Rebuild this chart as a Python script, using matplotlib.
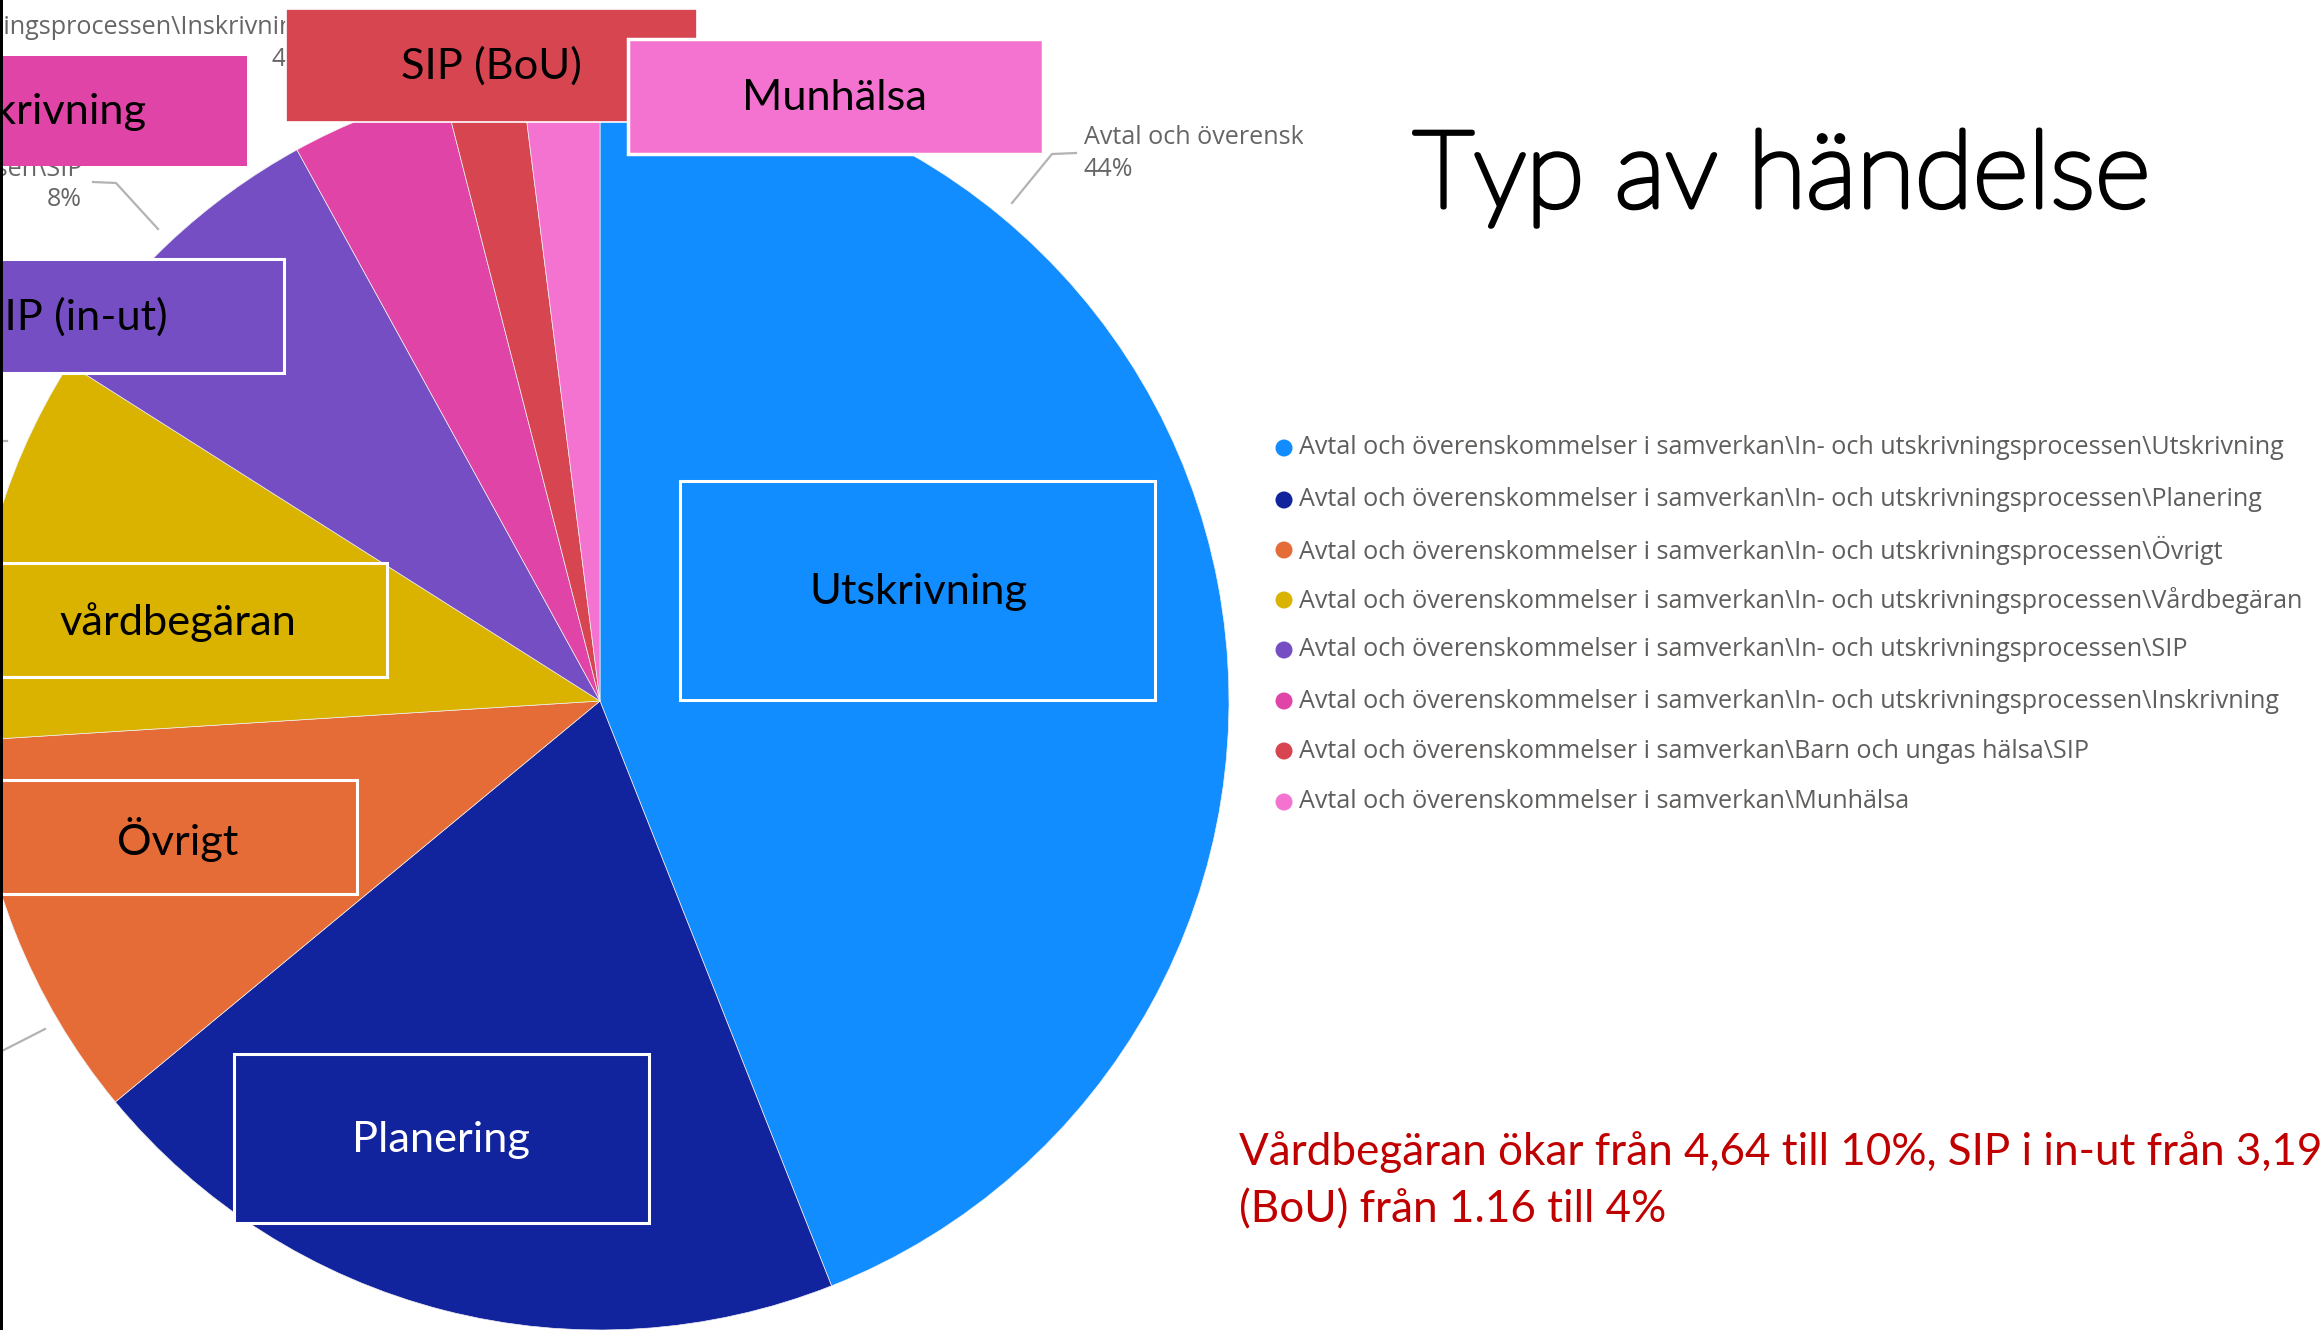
import matplotlib
matplotlib.use("Agg")
import matplotlib.pyplot as plt
import matplotlib.patheffects as pe
from matplotlib.patches import Rectangle
from matplotlib.transforms import Bbox

# ---------------- data ----------------
categories = ["Utskrivning", "Planering", "Övrigt", "Vårdbegäran", "SIP",
              "Inskrivning", "SIP (BoU)", "Munhälsa"]
shares = [44, 20, 10, 10, 8, 4, 2, 2]
colors = ["#118DFF", "#12239E", "#E66C37", "#D9B300", "#744EC2",
          "#E044A7", "#D64550", "#F472D0"]
legend_labels = [
    "Avtal och överenskommelser i samverkan\\In- och utskrivningsprocessen\\Utskrivning",
    "Avtal och överenskommelser i samverkan\\In- och utskrivningsprocessen\\Planering",
    "Avtal och överenskommelser i samverkan\\In- och utskrivningsprocessen\\Övrigt",
    "Avtal och överenskommelser i samverkan\\In- och utskrivningsprocessen\\Vårdbegäran",
    "Avtal och överenskommelser i samverkan\\In- och utskrivningsprocessen\\SIP",
    "Avtal och överenskommelser i samverkan\\In- och utskrivningsprocessen\\Inskrivning",
    "Avtal och överenskommelser i samverkan\\Barn och ungas hälsa\\SIP",
    "Avtal och överenskommelser i samverkan\\Munhälsa",
]
box_texts = ["Utskrivning", "Planering", "Övrigt", "vårdbegäran", "SIP (in-ut)",
             "Inskrivning", "SIP (BoU)", "Munhälsa"]
box_text_colors = ["black", "white", "black", "black", "black", "black", "black", "black"]
title_text = "Typ av händelse"
note_lines = ["Vårdbegäran ökar från 4,64 till 10%, SIP i in-ut från 3,19",
              "(BoU) från 1.16 till 4%"]

# ---------------- layout ----------------
W, H = 2322, 1330
fig = plt.figure(figsize=(W / 100, H / 100), dpi=100)
fig.patch.set_facecolor("white")
ax = fig.add_axes([0, 0, 1, 1])

ax.pie(shares, colors=colors, center=(600, 701), radius=629,
       startangle=-90, counterclock=True,
       wedgeprops=dict(linewidth=0.5, edgecolor="#f0f0f0"))
ax.set_xlim(0, W)
ax.set_ylim(H, 0)
ax.set_aspect("auto")
ax.axis("off")

renderer = fig.canvas.get_renderer()


def fit_width(t, target):
    w = t.get_window_extent(renderer).width
    t.set_fontsize(t.get_fontsize() * target / w)
    return t.get_fontsize()


CAL = ["Lato", "Open Sans", "DejaVu Sans"]
SEG = ["Open Sans", "Noto Sans", "DejaVu Sans"]
GRAY = "#666666"

# ---- gray Power BI data labels (partly hidden) ----
lab_probe = ax.text(0, -500, legend_labels[0], fontsize=16, family=SEG)
lab_fs = fit_width(lab_probe, 986)
lab_probe.remove()

t44 = ax.text(1084, 138, legend_labels[0], fontsize=lab_fs, family=SEG,
              color=GRAY, va="center", ha="left", zorder=4)
t44.set_clip_box(Bbox.from_extents(0, 0, 1303, H))
t44.set_clip_on(True)
ax.text(1084, 170, f"{shares[0]}%", fontsize=lab_fs, family=SEG, color=GRAY,
        va="center", ha="left", zorder=4)

ax.text(308, 28, legend_labels[5], fontsize=lab_fs, family=SEG, color=GRAY,
        va="center", ha="right", zorder=4)
ax.text(307, 59, f"{shares[5]}%", fontsize=lab_fs, family=SEG, color=GRAY,
        va="center", ha="right", zorder=4)

ax.text(82, 170, legend_labels[4], fontsize=lab_fs, family=SEG, color=GRAY,
        va="center", ha="right", zorder=4)
ax.text(82, 200, f"{shares[4]}%", fontsize=lab_fs, family=SEG, color=GRAY,
        va="center", ha="right", zorder=4)

# leader lines
lc = "#b3b3b3"
ax.plot([1076, 1052, 1012], [153, 154, 203], color=lc, lw=1.6, zorder=4)
ax.plot([93, 116, 158], [182, 183, 229], color=lc, lw=1.6, zorder=4)
ax.plot([0, 7], [441, 441], color=lc, lw=1.6, zorder=4)
ax.plot([0, 45], [1052, 1029], color=lc, lw=1.6, zorder=4)

# ---- overlaid slide label boxes ----
box_rects = [(680, 481, 1155, 700), (234, 1054, 649, 1223), (-10, 780, 357, 894),
             (-10, 563, 387, 677), (-10, 259, 284, 373), (-10, 56, 247, 166),
             (286, 9, 697, 122), (628, 39, 1043, 154)]
box_text_pos = [(918, 592, "center"), (441, 1140, "center"), (178, 840, "center"),
                (178, 622, "center"), (168, 317, "right"), (146, 112, "right"),
                (491, 66, "center"), (835, 98, "center")]
box_edge_lw = [2.2, 2.2, 2.2, 2.2, 2.2, 0, 1.2, 2.5]

probe = ax.text(0, -500, box_texts[0], fontsize=30, family=CAL)
box_fs = fit_width(probe, 218)
probe.remove()

for i, (x0, y0, x1, y1) in enumerate(box_rects):
    ax.add_patch(Rectangle((x0, y0), x1 - x0, y1 - y0, facecolor=colors[i],
                           edgecolor="white" if box_edge_lw[i] > 0 else colors[i],
                           linewidth=box_edge_lw[i], zorder=5 + i * 0.1))
    tx, ty, ha = box_text_pos[i]
    ax.text(tx, ty, box_texts[i], fontsize=box_fs, family=CAL,
            color=box_text_colors[i], ha=ha, va="center", zorder=5.05 + i * 0.1)

# ---- title (Calibri Light look: Lato Light thickened) ----
tt = ax.text(1413, 207, title_text, fontsize=80, family=CAL, fontweight="light",
             color="black", ha="left", va="baseline",
             path_effects=[pe.withStroke(linewidth=3.6, foreground="black")])
fit_width(tt, 737)

# ---- legend ----
leg_y = [448, 500, 550, 600, 650, 701, 751, 802]
leg_fs = lab_fs
for i, lab in enumerate(legend_labels):
    ax.scatter([1284], [leg_y[i]], s=150, color=colors[i], edgecolors="none", zorder=6)
    ax.text(1299, leg_y[i], lab, fontsize=leg_fs, family=SEG, color="#605E5C",
            ha="left", va="center", zorder=6)

# ---- red note ----
n2 = ax.text(1239, 1222, note_lines[1], fontsize=30, family=CAL, color="#C00000",
             ha="left", va="baseline")
note_fs = fit_width(n2, 426)
ax.text(1239, 1165, note_lines[0], fontsize=note_fs, family=CAL, color="#C00000",
        ha="left", va="baseline")

# left black edge of slide
ax.add_patch(Rectangle((0, 0), 3, H, facecolor="black", edgecolor="none", zorder=10))

fig.savefig("out.png", dpi=100, facecolor="white")
